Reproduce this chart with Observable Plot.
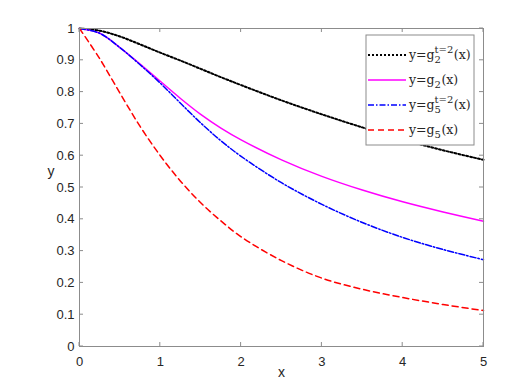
<!DOCTYPE html>
<html><head><meta charset="utf-8">
<script src="https://cdn.jsdelivr.net/npm/d3@7"></script>
<script src="https://cdn.jsdelivr.net/npm/@observablehq/plot@0.6"></script>
<style>body{margin:0;background:#fff}#chart{width:518px;height:387px}</style>
</head><body><div id="chart"></div>
<script>
// ---- data ----
const xs      = [0, 0.25, 0.5, 0.75, 1, 1.25, 1.5, 1.75, 2, 2.5, 3, 3.5, 4, 4.5, 5];
const g2_t2   = [1, 0.993, 0.975, 0.950, 0.924, 0.899, 0.873, 0.847, 0.822, 0.774, 0.730, 0.689, 0.651, 0.617, 0.587];
const g2      = [1, 0.985, 0.940, 0.888, 0.834, 0.780, 0.730, 0.687, 0.650, 0.587, 0.535, 0.492, 0.455, 0.423, 0.394];
const g5_t2   = [1, 0.985, 0.940, 0.886, 0.828, 0.765, 0.703, 0.647, 0.598, 0.515, 0.447, 0.390, 0.343, 0.305, 0.273];
const g5      = [1, 0.905, 0.797, 0.692, 0.600, 0.520, 0.452, 0.395, 0.345, 0.270, 0.215, 0.180, 0.154, 0.132, 0.113];
const xTicks  = [0, 1, 2, 3, 4, 5];
const yTicks  = [0, 0.1, 0.2, 0.3, 0.4, 0.5, 0.6, 0.7, 0.8, 0.9, 1];
const xLabel  = "x";
const yLabel  = "y";
// legend: [main, sub, sup]
const legendLabels = [["y=g", "2", "t=2"], ["y=g", "2", ""], ["y=g", "5", "t=2"], ["y=g", "5", ""]];

// ---- styles ----
const seriesVals = [g2_t2, g2, g5_t2, g5];
const styles = [
  {stroke: "#000000", width: 2, dash: "2,2"},
  {stroke: "#ff00ff", width: 1.5, dash: null},
  {stroke: "#0000ff", width: 1.5, dash: "6,2,1.5,2"},
  {stroke: "#ff0000", width: 1.5, dash: "6,4"}
];
const axisColor = "#8c8c8c";
const textColor = "#262626";

const lineMarks = seriesVals.map((vals, k) =>
  Plot.line(xs.map((x, i) => ({x, y: vals[i]})), {
    x: "x", y: "y", curve: "catmull-rom",
    stroke: styles[k].stroke, strokeWidth: styles[k].width,
    strokeDasharray: styles[k].dash
  })
);

const plot = Plot.plot({
  width: 518, height: 387,
  marginLeft: 79, marginRight: 35, marginTop: 28, marginBottom: 41,
  style: {fontFamily: "'Liberation Sans', Arial, sans-serif", fontSize: "13px", color: textColor, background: "#fff"},
  x: {domain: [0, 5], label: null},
  y: {domain: [0, 1], label: null},
  marks: [
    Plot.axisX(xTicks, {tickSize: 0, tickPadding: 10, tickFormat: d => String(d), fill: textColor}),
    Plot.axisY(yTicks, {tickSize: 0, tickPadding: 5, tickFormat: d => String(d), fill: textColor}),
    Plot.text([xLabel], {frameAnchor: "bottom", dy: 30, fontSize: 14, fill: textColor}),
    Plot.text([yLabel], {frameAnchor: "left", dx: -32, dy: -16, fontSize: 14, fill: textColor}),
    ...lineMarks,
    Plot.frame({stroke: axisColor, strokeWidth: 1})
  ]
});
document.getElementById("chart").append(plot);

const sx = plot.scale("x"), sy = plot.scale("y");
const svg = d3.select(plot);
const x0 = sx.apply(0), x1 = sx.apply(5), y0 = sy.apply(0), y1 = sy.apply(1);
const tg = svg.append("g").attr("stroke", axisColor).attr("stroke-width", 1);
for (const t of xTicks) {
  const px = sx.apply(t);
  tg.append("line").attr("x1", px).attr("x2", px).attr("y1", y0).attr("y2", y0 - 4);
  tg.append("line").attr("x1", px).attr("x2", px).attr("y1", y1).attr("y2", y1 + 4);
}
for (const t of yTicks) {
  const py = sy.apply(t);
  tg.append("line").attr("x1", x0).attr("x2", x0 + 4).attr("y1", py).attr("y2", py);
  tg.append("line").attr("x1", x1).attr("x2", x1 - 4).attr("y1", py).attr("y2", py);
}

// legend
const lw = 108, lh = 110;
const lx = x1 - 9 - lw, ly = y1 + 7;
const lg = svg.append("g").attr("text-anchor", "start");
lg.append("rect").attr("x", lx).attr("y", ly).attr("width", lw).attr("height", lh)
  .attr("fill", "#fff").attr("stroke", axisColor).attr("stroke-width", 1);
legendLabels.forEach((lab, i) => {
  const cy = ly + 20 + i * 25;
  const s = styles[i];
  lg.append("line").attr("x1", lx + 2).attr("x2", lx + 40).attr("y1", cy).attr("y2", cy)
    .attr("stroke", s.stroke).attr("stroke-width", s.width).attr("stroke-dasharray", s.dash);
  const tx = lx + 43, base = cy + 4;
  const font = "'DejaVu Serif', serif";
  const t1 = lg.append("text").attr("x", tx).attr("y", base).attr("font-family", font)
    .attr("font-size", 12.5).attr("fill", textColor).text(lab[0]);
  const w1 = t1.node().getComputedTextLength();
  const sub = lg.append("text").attr("x", tx + w1).attr("y", base + 4).attr("font-family", font)
    .attr("font-size", 10).attr("fill", textColor).text(lab[1]);
  let w2 = sub.node().getComputedTextLength();
  if (lab[2]) {
    const sup = lg.append("text").attr("x", tx + w1).attr("y", base - 6).attr("font-family", font)
      .attr("font-size", 10).attr("fill", textColor).text(lab[2]);
    w2 = Math.max(w2, sup.node().getComputedTextLength());
  }
  lg.append("text").attr("x", tx + w1 + w2 + 0.5).attr("y", base).attr("font-family", font)
    .attr("font-size", 12.5).attr("fill", textColor).text("(x)");
});
</script></body></html>
